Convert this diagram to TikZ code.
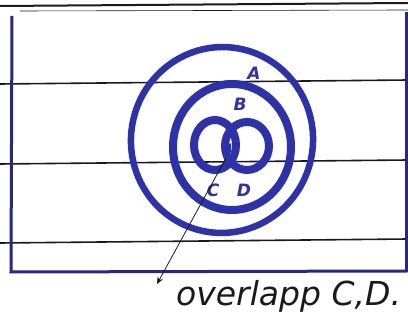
\documentclass[tikz,border=0pt]{standalone}
\usepackage{fontspec}
\setmainfont{DejaVu Sans}
\usetikzlibrary{arrows.meta}
\definecolor{ink}{RGB}{45,50,170}
\definecolor{pencil}{RGB}{25,25,30}
\tikzset{
  rule/.style={pencil, line width=1.6pt},
  frame/.style={ink!80!black, line width=3pt},
  ring/.style={ink, line width=7pt},
  lab/.style={ink, font=\fontsize{17}{17}\selectfont\bfseries\itshape, inner sep=0pt},
  note/.style={pencil, font=\fontsize{33}{33}\selectfont\itshape, inner sep=0pt, anchor=west}
}
\begin{document}
\begin{tikzpicture}[x=1pt,y=-1pt]
\useasboundingbox[fill=white] (0,0) rectangle (408,320);
% ruled lines
\draw[rule, line width=2pt] (0,6) -- (408,3);
\draw[pencil, line width=0.6pt] (20,11) -- (408,10);
\draw[rule] (0,84) -- (408,80);
\draw[rule] (0,164) -- (408,160);
\draw[rule] (0,243) -- (408,239);
% frame
\draw[frame] (12,16) -- (11,272) -- (408,271);
\draw[frame] (406,12) -- (406,271);
% rings
\draw[ring, line width=6.5pt, rotate around={-10:(222,140)}] (222,140) ellipse[x radius=91, y radius=93];
\draw[ring, line width=8pt] (232,147) ellipse[x radius=59, y radius=63];
\draw[ring, line width=8pt] (215,145) ellipse[x radius=21, y radius=25];
\draw[ring, line width=8pt] (247,146) ellipse[x radius=22, y radius=24];
% labels
\node[lab] (A) at (254,73) {A};
\node[lab] (B) at (240,104) {B};
\node[lab] (C) at (213,190) {C};
\node[lab] (D) at (244,190) {D};
\node[lab, font=\fontsize{12}{12}\selectfont\bfseries] (q) at (228,148) {q};
% note
\coordinate (ov) at (226,158);
\node[note] (txt) at (176,296) {overlapp C,D.};
\coordinate (tip) at (157,284);
\draw[pencil, line width=0.8pt, -{Stealth[length=7pt,width=6pt]}] (ov) -- (tip);
\end{tikzpicture}
\end{document}
